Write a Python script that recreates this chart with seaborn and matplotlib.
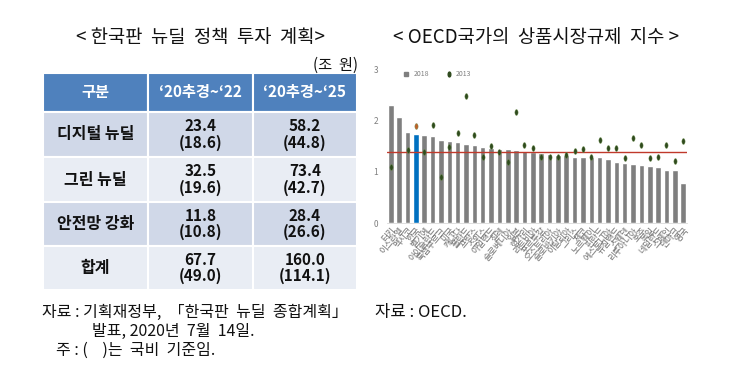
import numpy as np
import pandas as pd
import seaborn as sns
import matplotlib.pyplot as plt
from matplotlib.patches import Rectangle
from matplotlib.lines import Line2D

# left table data
table_title = "< 한국판  뉴딜  정책  투자  계획>"
unit_label = "(조  원)"
col_headers = ["구분", "‘20추경~‘22", "‘20추경~‘25"]
row_labels = ["디지털 뉴딜", "그린 뉴딜", "안전망 강화", "합계"]
total_22 = [23.4, 32.5, 11.8, 67.7]
national_22 = [18.6, 19.6, 10.8, 49.0]
total_25 = [58.2, 73.4, 28.4, 160.0]
national_25 = [44.8, 42.7, 26.6, 114.1]
table_notes = ["자료 : 기획재정부,  「한국판  뉴딜  종합계획」",
               "발표, 2020년  7월  14일.",
               "주 : (    )는  국비  기준임."]

# right chart data
chart_title = "< OECD국가의  상품시장규제  지수 >"
chart_note = "자료 : OECD."
countries = ["터키", "이스라엘", "멕시코", "한국", "벨기에", "아이슬란드", "룩셈부르크",
             "미국", "캐나다", "폴란드", "프랑스", "스위스", "아일랜드", "칠레",
             "슬로베니아", "일본", "헝가리", "라트비아", "포르투갈", "오스트리아",
             "슬로바키아", "이탈리아", "그리스", "체코", "노르웨이", "핀란드",
             "에스토니아", "뉴질랜드", "스웨덴", "리투아니아", "호주", "독일",
             "네덜란드", "스페인", "덴마크", "영국"]
pmr_2018 = [2.32, 2.07, 1.78, 1.74, 1.72, 1.70, 1.63, 1.60, 1.58, 1.55, 1.53, 1.48,
            1.47, 1.46, 1.45, 1.44, 1.41, 1.39, 1.37, 1.35, 1.34, 1.33, 1.30, 1.30,
            1.30, 1.29, 1.25, 1.19, 1.17, 1.16, 1.13, 1.12, 1.10, 1.03, 1.03, 0.79]
pmr_2013 = [1.09, np.nan, 1.43, 1.90, 1.39, 1.93, 0.91, 1.49, 1.76, 2.48, 1.72, 1.29,
            1.50, 1.40, 1.20, 2.18, 1.52, 1.47, 1.30, 1.30, 1.30, 1.33, 1.41, 1.45,
            1.30, 1.62, 1.47, 1.47, 1.28, 1.66, 1.52, 1.27, 1.29, 1.52, 1.22, 1.61]
oecd_avg = 1.40

sns.set_style("white")
plt.rcParams['font.family'] = ['Noto Sans CJK KR', 'DejaVu Sans']

fig = plt.figure(figsize=(7.5, 3.78), dpi=100)

# pixel canvas for the table and texts
canvas = fig.add_axes([0, 0, 1, 1])
canvas.set_xlim(0, 750)
canvas.set_ylim(378, 0)
canvas.axis('off')

canvas.text(200, 37, table_title, ha='center', va='center', fontsize=13.5, color='#111111')
canvas.text(358, 65, unit_label, ha='right', va='center', fontsize=11, color='#111111')

col_x = [43, 148, 253, 357]
row_y = [73, 112, 157, 202, 246, 290]
fills = ['#4F81BD', '#D0D8E8', '#E9EDF4', '#D0D8E8', '#E9EDF4']
for r in range(5):
    for c in range(3):
        canvas.add_patch(Rectangle((col_x[c], row_y[r]), col_x[c + 1] - col_x[c],
                                   row_y[r + 1] - row_y[r], facecolor=fills[r],
                                   edgecolor='white', lw=1.5))

for c, h in enumerate(col_headers):
    canvas.text((col_x[c] + col_x[c + 1]) / 2, (row_y[0] + row_y[1]) / 2, h,
                ha='center', va='center', fontsize=11, fontweight='bold', color='white')

for r, lab in enumerate(row_labels):
    yc = (row_y[r + 1] + row_y[r + 2]) / 2
    canvas.text((col_x[0] + col_x[1]) / 2, yc, lab, ha='center', va='center',
                fontsize=11.5, fontweight='bold', color='#111111')
    canvas.text((col_x[1] + col_x[2]) / 2, yc, f"{total_22[r]:.1f}\n({national_22[r]:.1f})",
                ha='center', va='center', fontsize=11, fontweight='bold',
                color='#111111', linespacing=1.0)
    canvas.text((col_x[2] + col_x[3]) / 2, yc, f"{total_25[r]:.1f}\n({national_25[r]:.1f})",
                ha='center', va='center', fontsize=11, fontweight='bold',
                color='#111111', linespacing=1.0)

canvas.text(42, 312, table_notes[0], va='center', fontsize=11.5, color='#111111')
canvas.text(92, 331, table_notes[1], va='center', fontsize=11.5, color='#111111')
canvas.text(56, 350, table_notes[2], va='center', fontsize=11.5, color='#111111')

canvas.text(536, 38, chart_title, ha='center', va='center', fontsize=13.5, color='#111111')
canvas.text(375, 312, chart_note, va='center', fontsize=12, color='#111111')

# bar chart
df = pd.DataFrame({'country': countries, 'pmr2018': pmr_2018, 'pmr2013': pmr_2013})
bar_colors = ['#0070C0' if c == '한국' else '#7F7F7F' for c in countries]
dot_colors = ['#C0602A' if c == '한국' else '#2F4A1E' for c in countries]

ax = fig.add_axes([0.5155, 0.410, 0.401, 0.405])
sns.barplot(data=df, x='country', y='pmr2018', hue='country', palette=bar_colors,
            legend=False, dodge=False, width=0.66, saturation=1, ax=ax)

t = np.linspace(0, 2 * np.pi, 30)
ellipse = np.column_stack([0.55 * np.cos(t), np.sin(t)])
sns.stripplot(data=df, x='country', y='pmr2013', hue='country', palette=dot_colors,
              legend=False, dodge=False, jitter=False, size=4.2, marker=ellipse,
              edgecolor='#6B8E4E', linewidth=0.3, ax=ax, zorder=4)

ax.axhline(oecd_avg, color='#C0392B', lw=1, zorder=3)

ax.set_xlim(-0.5, len(countries) - 0.5)
ax.set_ylim(0, 3)
ax.set_yticks([0, 1, 2, 3])
ax.set_xlabel('')
ax.set_ylabel('')
ax.tick_params(axis='y', length=0, pad=6, labelsize=6, labelcolor='#7F7F7F')
ax.tick_params(axis='x', length=0, pad=2, labelsize=6.3, labelcolor='#707070')
plt.setp(ax.get_xticklabels(), rotation=50, ha='right', rotation_mode='anchor')
for s in ['top', 'right', 'left']:
    ax.spines[s].set_visible(False)
ax.spines['bottom'].set_color('#D9D9D9')
ax.spines['bottom'].set_linewidth(0.6)

handles = [Line2D([], [], marker='s', ls='', color='#7F7F7F', ms=3.5, label='2018'),
           Line2D([], [], marker=ellipse, ls='', color='#2F4A1E', ms=3.5, label='2013')]
ax.legend(handles=handles, loc='upper left', bbox_to_anchor=(0.02, 1.04), ncol=2,
          frameon=False, fontsize=5, handletextpad=0.1, columnspacing=1.8,
          labelcolor='#7F7F7F')

fig.savefig("out.png", dpi=100)
